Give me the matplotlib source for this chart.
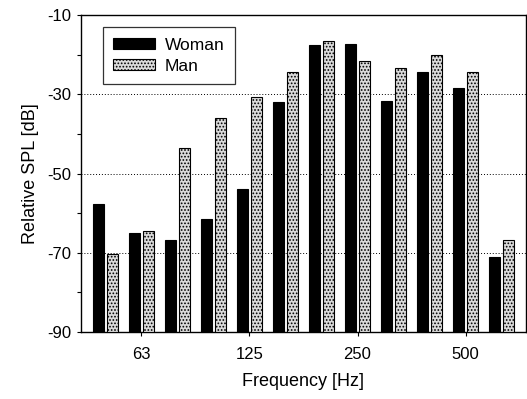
import numpy as np
import matplotlib
matplotlib.use('Agg')
import matplotlib.pyplot as plt

plt.rcParams['font.family'] = ['Liberation Sans', 'DejaVu Sans']
plt.rcParams['axes.unicode_minus'] = False
plt.rcParams['hatch.color'] = '#a5a5a5'
plt.rcParams['hatch.linewidth'] = 0.8

# third-octave bands (Hz)
bands = [50, 63, 80, 100, 125, 160, 200, 250, 315, 400, 500, 630]
woman = [-57.6, -65.0, -66.7, -61.4, -54.0, -32.0, -17.5, -17.4, -31.6, -24.5, -28.4, -71.1]
man = [-70.2, -64.5, -43.5, -35.9, -30.7, -24.5, -16.6, -21.5, -23.5, -20.0, -24.5, -66.7]
tick_labels = ['63', '125', '250', '500']

x = np.arange(len(bands))
w = 0.32
off = 0.195
base = -90

fig = plt.figure(figsize=(5.27, 3.99), dpi=100)
ax = fig.add_axes([81/527, 1 - 332/399, 445/527, 317/399])

ax.bar(x - off, np.array(woman) - base, w, bottom=base, color='black',
       edgecolor='black', linewidth=0.8, label='Woman', zorder=3)
ax.bar(x + off, np.array(man) - base, w, bottom=base, color='#dadada',
       edgecolor='black', linewidth=0.8, hatch='.....', label='Man', zorder=3)

ax.set_xlim(-0.68, 11.68)
ax.set_ylim(-90, -10)
ax.set_yticks(np.arange(-90, -9, 20))
ax.set_yticks(np.arange(-80, -10, 20), minor=True)
ticks_at = [bands.index(int(t)) for t in tick_labels]
ax.set_xticks(ticks_at)
ax.set_xticklabels(tick_labels)
ax.tick_params(axis='both', which='both', direction='out', length=3, width=0.8,
               labelsize=12, pad=4)
ax.tick_params(axis='x', pad=8)
for y in [-30, -50, -70]:
    ax.axhline(y, color='black', linestyle=(0, (1, 2)), linewidth=0.7, zorder=1)
for s in ax.spines.values():
    s.set_linewidth(1.0)

ax.set_xlabel('Frequency [Hz]', fontsize=13, labelpad=8)
ax.set_ylabel('Relative SPL [dB]', fontsize=13, labelpad=6)

leg = ax.legend(loc='upper left', bbox_to_anchor=(0.049, 0.961), borderaxespad=0,
                fontsize=12.5, frameon=True, fancybox=False, edgecolor='black',
                handlelength=2.4, handleheight=0.55, borderpad=0.6,
                labelspacing=0.35, handletextpad=0.55)
leg.get_frame().set_linewidth(0.9)

fig.savefig('out.png', dpi=100)
